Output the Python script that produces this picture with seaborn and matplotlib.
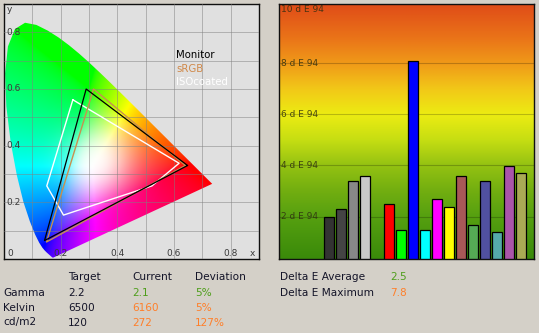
import numpy as np
import pandas as pd
import matplotlib
matplotlib.use("Agg")
import matplotlib.pyplot as plt
import seaborn as sns
from matplotlib.patches import Polygon
from matplotlib.colors import LinearSegmentedColormap

# ---------------- data ----------------
# CIE 1931 spectral locus (x, y)
locus_x = [0.1741, 0.1740, 0.1738, 0.1736, 0.1733, 0.1730, 0.1726, 0.1721, 0.1714, 0.1703,
           0.1689, 0.1669, 0.1644, 0.1611, 0.1566, 0.1510, 0.1440, 0.1355, 0.1241, 0.1096,
           0.0913, 0.0687, 0.0454, 0.0235, 0.0082, 0.0039, 0.0139, 0.0389, 0.0743, 0.1142,
           0.1547, 0.1929, 0.2296, 0.2658, 0.3016, 0.3373, 0.3731, 0.4087, 0.4441, 0.4788,
           0.5125, 0.5448, 0.5752, 0.6029, 0.6270, 0.6482, 0.6658, 0.6801, 0.6915, 0.7006,
           0.7079, 0.7140, 0.7190, 0.7230, 0.7260, 0.7283, 0.7300, 0.7311, 0.7320, 0.7334,
           0.7344, 0.7347]
locus_y = [0.0050, 0.0050, 0.0049, 0.0049, 0.0048, 0.0048, 0.0048, 0.0048, 0.0051, 0.0058,
           0.0069, 0.0086, 0.0109, 0.0138, 0.0177, 0.0227, 0.0297, 0.0399, 0.0578, 0.0868,
           0.1327, 0.2007, 0.2950, 0.4127, 0.5384, 0.6548, 0.7502, 0.8120, 0.8338, 0.8262,
           0.8059, 0.7816, 0.7543, 0.7243, 0.6923, 0.6589, 0.6245, 0.5896, 0.5547, 0.5202,
           0.4866, 0.4544, 0.4242, 0.3965, 0.3725, 0.3514, 0.3340, 0.3197, 0.3083, 0.2993,
           0.2920, 0.2859, 0.2809, 0.2770, 0.2740, 0.2717, 0.2700, 0.2689, 0.2680, 0.2666,
           0.2656, 0.2653]

monitor_x = [0.648, 0.290, 0.143, 0.648]
monitor_y = [0.330, 0.600, 0.065, 0.330]
srgb_x = [0.640, 0.316, 0.150, 0.640]
srgb_y = [0.330, 0.600, 0.060, 0.330]
iso_x = [0.243, 0.618, 0.522, 0.210, 0.151, 0.243]
iso_y = [0.562, 0.338, 0.258, 0.155, 0.258, 0.562]
gamut_names = ["Monitor", "sRGB", "ISOcoated"]

cie_ticks = [0.2, 0.4, 0.6, 0.8]

bar_pos = [0, 1, 2, 3, 5, 6, 7, 8, 9, 10, 11, 12, 13, 14, 15, 16]
bar_vals = [1.97, 2.29, 3.38, 3.58, 2.48, 1.47, 8.08, 1.47, 2.68, 2.37,
            3.58, 1.66, 3.38, 1.39, 3.97, 3.70]
bar_colors = ["#333333", "#444444", "#888888", "#c8c8c8", "#ff0000", "#00ff00",
              "#0000ff", "#00ffff", "#ff00ff", "#ffff00", "#a85858", "#55aa55",
              "#5050a0", "#55aaaa", "#aa55aa", "#aaaa55"]
de_ticks = [2, 4, 6, 8, 10]

tbl_cols = ["Target", "Current", "Deviation"]
tbl_rows = ["Gamma", "Kelvin", "cd/m2"]
tbl_target = ["2.2", "6500", "120"]
tbl_current = ["2.1", "6160", "272"]
tbl_dev = ["5%", "5%", "127%"]
tbl_state = ["good", "warn", "warn"]
de_labels = ["Delta E Average", "Delta E Maximum"]
de_values = ["2.5", "7.8"]
de_state = ["good", "warn"]

# ---------------- style ----------------
sns.set_theme(style="white")
plt.rcParams["font.family"] = ["DejaVu Sans"]
BG = "#d4d0c8"
GOOD = "#4f9e1c"
WARN = "#ff7f2a"
TXT = "#141428"
state_col = {"good": GOOD, "warn": WARN}

fig = plt.figure(figsize=(5.39, 3.33), dpi=100, facecolor=BG)
W, H = 539, 333

# ---------------- left: CIE diagram ----------------
ax1 = fig.add_axes([4 / W, 1 - 259 / H, 255 / W, 255 / H])
ax1.set_facecolor("#e0e0e0")
ax1.set_xlim(0, 0.9)
ax1.set_ylim(0, 0.9)
ax1.set_xticks(np.arange(0.1, 0.9, 0.1))
ax1.set_yticks(np.arange(0.1, 0.9, 0.1))
ax1.tick_params(length=0, labelbottom=False, labelleft=False)
ax1.grid(True, color="#808080", alpha=0.5, lw=0.7)
ax1.set_axisbelow(False)

N = 450
gx = np.linspace(0.0005, 0.9, N)
gy = np.linspace(0.0005, 0.9, N)
GX, GY = np.meshgrid(gx, gy)
Xc = GX / GY
Yc = np.ones_like(GX)
Zc = (1 - GX - GY) / GY
M = np.array([[3.2406, -1.5372, -0.4986],
              [-0.9689, 1.8758, 0.0415],
              [0.0557, -0.2040, 1.0570]])
XYZ = np.stack([Xc, Yc, Zc], axis=-1)
rgb = XYZ @ M.T
rgb = np.clip(rgb, 0, None)
rgb = rgb / np.maximum(rgb.max(axis=-1, keepdims=True), 1e-9)
rgb = rgb ** (1 / 1.7)
# soft white glow around the white point
d2 = (GX - 0.325) ** 2 + (GY - 0.345) ** 2
wgt = np.exp(-d2 / (2 * 0.075 ** 2))[..., None] * 0.85
rgb = rgb + (1 - rgb) * wgt
rgb = np.clip(rgb, 0, 1)
im = ax1.imshow(rgb, extent=[0, 0.9, 0, 0.9], origin="lower",
                interpolation="bilinear", zorder=1, aspect="auto")
clip = Polygon(np.column_stack([locus_x, locus_y]), closed=True,
               transform=ax1.transData, facecolor="none", edgecolor="none")
ax1.add_patch(clip)
im.set_clip_path(clip)

sns.lineplot(x=iso_x, y=iso_y, sort=False, estimator=None, color="white",
             lw=1.0, ax=ax1, zorder=3)
sns.lineplot(x=srgb_x, y=srgb_y, sort=False, estimator=None, color="#c89050",
             lw=1.0, ax=ax1, zorder=4)
sns.lineplot(x=monitor_x, y=monitor_y, sort=False, estimator=None, color="black",
             lw=0.9, ax=ax1, zorder=5)
ax1.set_xlabel("")
ax1.set_ylabel("")

for name, c, yy in zip(gamut_names, ["#000000", "#d08848", "#ffffff"], [0.80, 0.745, 0.694]):
    ax1.text(0.675, yy, name, transform=ax1.transAxes, fontsize=7.3, color=c,
             va="center", ha="left", zorder=6)

lab_kw = dict(fontsize=6.5, color="#3a3a3a", zorder=6)
for v in cie_ticks:
    ax1.text(v, 0.018, f"{v:.1f}", ha="center", va="center", **lab_kw)
    ax1.text(0.007, v, f"{v:.1f}", ha="left", va="center", **lab_kw)
ax1.text(0.012, 0.018, "0", ha="left", va="center", **lab_kw)
ax1.text(0.010, 0.88, "y", ha="left", va="center", **lab_kw)
ax1.text(0.885, 0.018, "x", ha="right", va="center", **lab_kw)
for s in ax1.spines.values():
    s.set_color("#101010")
    s.set_linewidth(1.0)

# ---------------- right: delta E bars ----------------
ax2 = fig.add_axes([279 / W, 1 - 259 / H, 255 / W, 255 / H])
xlo, xhi = -4.17, 17.08
ylo, yhi = 0.34, 10.32
grad_stops = [(0.34, "#3a8a0a"), (2, "#56a010"), (3, "#72ae10"), (4, "#94c212"),
              (5, "#c6de12"), (6, "#ecec12"), (7, "#f2c818"), (8, "#f09a18"),
              (9, "#ea7418"), (10.32, "#e04c18")]
cmap = LinearSegmentedColormap.from_list(
    "de", [((v - ylo) / (yhi - ylo), c) for v, c in grad_stops])
grad = np.linspace(0, 1, 256).reshape(-1, 1)
ax2.imshow(grad, extent=[xlo, xhi, ylo, yhi], origin="lower", cmap=cmap,
           aspect="auto", zorder=0)

for t in de_ticks[:-1]:
    ax2.axhline(t, color="#000000", alpha=0.22, lw=0.8, zorder=1)

df = pd.DataFrame({"pos": bar_pos, "val": bar_vals})
pal = dict(zip(bar_pos, bar_colors))
sns.barplot(data=df, x="pos", y="val", hue="pos", palette=pal, native_scale=True,
            width=0.78, edgecolor="black", linewidth=0.9, legend=False,
            saturation=1, ax=ax2, zorder=2)
ax2.set_xlim(xlo, xhi)
ax2.set_ylim(ylo, yhi)
ax2.set_xticks([])
ax2.set_yticks([])
ax2.set_xlabel("")
ax2.set_ylabel("")
for t in de_ticks:
    ax2.text(0.006, t if t < 10 else 10.1, f"{t} d E 94", transform=ax2.get_yaxis_transform(),
             fontsize=6.5, color="#2e2e10", alpha=0.85, ha="left", va="center", zorder=3)
for s in ax2.spines.values():
    s.set_color("#101010")
    s.set_linewidth(1.0)

# ---------------- bottom text ----------------
fs = 7.6
col_x = [68, 132, 195]
for cx, name in zip(col_x, tbl_cols):
    fig.text(cx / W, 1 - 277 / H, name, fontsize=fs, color=TXT, va="center", ha="left")
row_y = [293, 308, 322.5]
for ry, rname, tv, cv, dv, st in zip(row_y, tbl_rows, tbl_target, tbl_current, tbl_dev, tbl_state):
    fig.text(3.5 / W, 1 - ry / H, rname, fontsize=fs, color=TXT, va="center", ha="left")
    fig.text(col_x[0] / W, 1 - ry / H, tv, fontsize=fs, color=TXT, va="center", ha="left")
    fig.text(col_x[1] / W, 1 - ry / H, cv, fontsize=fs, color=state_col[st], va="center", ha="left")
    fig.text(col_x[2] / W, 1 - ry / H, dv, fontsize=fs, color=state_col[st], va="center", ha="left")

for ry, lab, val, st in zip([277.5, 292.5], de_labels, de_values, de_state):
    fig.text(280 / W, 1 - ry / H, lab, fontsize=fs, color=TXT, va="center", ha="left")
    fig.text(390 / W, 1 - ry / H, val, fontsize=fs, color=state_col[st], va="center", ha="left")

fig.savefig("out.png", dpi=100, facecolor=BG)
